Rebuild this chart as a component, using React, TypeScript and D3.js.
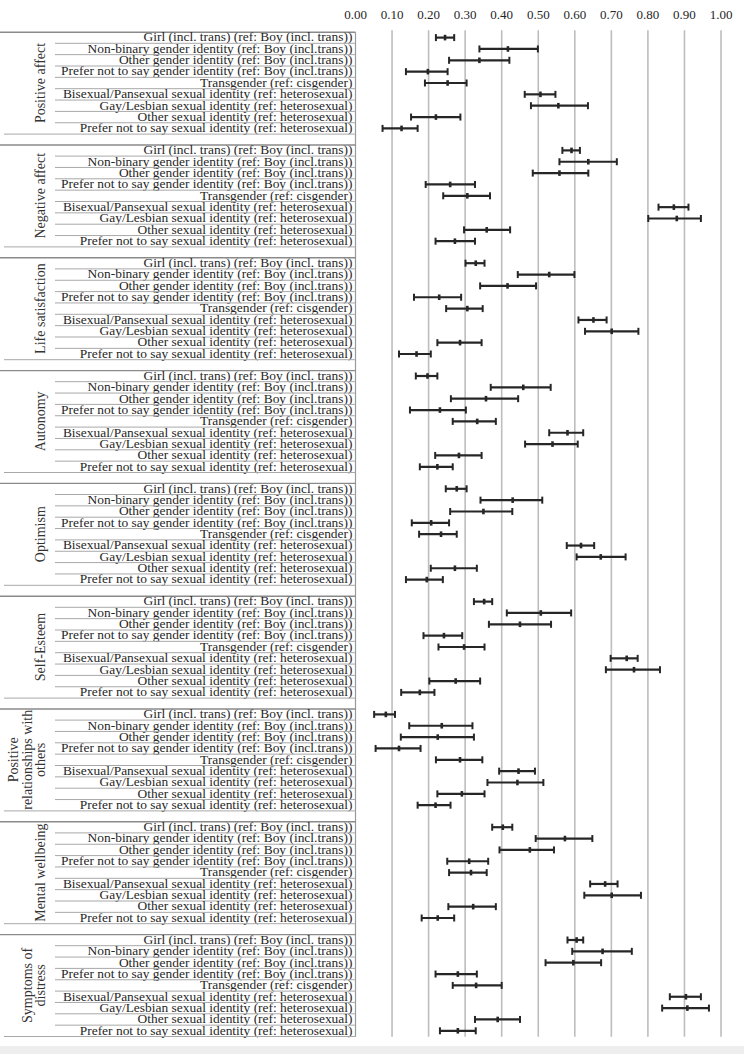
import React from "react";
import * as d3 from "d3";

// ---- DATA ----
const outcomes = [
  ["Positive affect"],
  ["Negative affect"],
  ["Life satisfaction"],
  ["Autonomy"],
  ["Optimism"],
  ["Self-Esteem"],
  ["Positive", "relationships with", "others"],
  ["Mental wellbeing"],
  ["Symptoms of", "distress"],
];

const categories = [
  "Girl (incl. trans) (ref: Boy (incl. trans))",
  "Non-binary gender identity (ref: Boy (incl.trans))",
  "Other gender identity (ref: Boy (incl.trans))",
  "Prefer not to say gender identity (ref: Boy (incl.trans))",
  "Transgender (ref: cisgender)",
  "Bisexual/Pansexual sexual identity (ref: heterosexual)",
  "Gay/Lesbian sexual identity (ref: heterosexual)",
  "Other sexual identity (ref: heterosexual)",
  "Prefer not to say sexual identity (ref: heterosexual)",
];

const tickValues = [0, 0.1, 0.2, 0.3, 0.4, 0.5, 0.6, 0.7, 0.8, 0.9, 1.0];

// [lower CI, estimate, upper CI]
const positiveAffect = [
  [0.22, 0.245, 0.27], [0.339, 0.417, 0.499], [0.256, 0.339, 0.421],
  [0.138, 0.198, 0.252], [0.19, 0.252, 0.304], [0.463, 0.506, 0.547],
  [0.48, 0.555, 0.636], [0.152, 0.22, 0.287], [0.074, 0.126, 0.17],
];
const negativeAffect = [
  [0.566, 0.591, 0.614], [0.558, 0.637, 0.715], [0.485, 0.558, 0.637],
  [0.192, 0.259, 0.327], [0.24, 0.306, 0.368], [0.829, 0.871, 0.911],
  [0.801, 0.879, 0.945], [0.297, 0.359, 0.423], [0.219, 0.272, 0.327],
];
const lifeSatisfaction = [
  [0.301, 0.329, 0.353], [0.444, 0.53, 0.599], [0.341, 0.416, 0.494],
  [0.16, 0.229, 0.289], [0.248, 0.306, 0.348], [0.61, 0.651, 0.687],
  [0.628, 0.701, 0.774], [0.224, 0.286, 0.345], [0.119, 0.167, 0.206],
];
const autonomy = [
  [0.165, 0.197, 0.224], [0.37, 0.459, 0.534], [0.261, 0.357, 0.445],
  [0.149, 0.231, 0.302], [0.266, 0.333, 0.384], [0.53, 0.58, 0.623],
  [0.464, 0.539, 0.608], [0.218, 0.283, 0.345], [0.176, 0.224, 0.266],
];
const optimism = [
  [0.247, 0.277, 0.304], [0.342, 0.43, 0.511], [0.259, 0.35, 0.429],
  [0.154, 0.207, 0.256], [0.174, 0.234, 0.277], [0.578, 0.617, 0.653],
  [0.605, 0.671, 0.739], [0.206, 0.272, 0.332], [0.138, 0.195, 0.239],
];
const selfEsteem = [
  [0.324, 0.352, 0.374], [0.414, 0.507, 0.59], [0.365, 0.45, 0.535],
  [0.186, 0.242, 0.292], [0.227, 0.297, 0.353], [0.698, 0.742, 0.772],
  [0.685, 0.762, 0.833], [0.202, 0.274, 0.341], [0.125, 0.176, 0.216],
];
const positiveRelationships = [
  [0.051, 0.083, 0.108], [0.147, 0.236, 0.32], [0.124, 0.225, 0.324],
  [0.055, 0.119, 0.178], [0.22, 0.286, 0.347], [0.393, 0.446, 0.491],
  [0.361, 0.443, 0.514], [0.224, 0.291, 0.353], [0.17, 0.219, 0.26],
];
const mentalWellbeing = [
  [0.374, 0.403, 0.429], [0.493, 0.573, 0.648], [0.394, 0.477, 0.543],
  [0.251, 0.311, 0.363], [0.256, 0.316, 0.359], [0.642, 0.683, 0.717],
  [0.626, 0.701, 0.781], [0.254, 0.322, 0.384], [0.181, 0.225, 0.27],
];
const symptomsOfDistress = [
  [0.58, 0.605, 0.623], [0.593, 0.676, 0.756], [0.52, 0.596, 0.672],
  [0.219, 0.28, 0.332], [0.266, 0.33, 0.4], [0.86, 0.904, 0.945],
  [0.839, 0.908, 0.967], [0.327, 0.389, 0.45], [0.231, 0.28, 0.329],
];

const seriesByOutcome = [
  positiveAffect, negativeAffect, lifeSatisfaction, autonomy, optimism,
  selfEsteem, positiveRelationships, mentalWellbeing, symptomsOfDistress,
];

// ---- LAYOUT ----
const W = 744;
const H = 1054;
const FONT = "'Liberation Serif', 'Times New Roman', serif";

export default function App() {
  const x = d3.scaleLinear().domain([0, 1]).range([355.5, 721]);
  const groupTop = d3.scaleLinear().domain([0, 8]).range([32.2, 32.2 + 8 * 112.8]);
  const rowY = d3.scaleLinear().domain([0, 8]).range([5.4, 96.2]);
  const tableTop = groupTop(0);
  const tableBottom = groupTop(8) + rowY(8) + 6;
  const fmt = d3.format(".2f");
  const ink = "#262626";
  const labelSx = 1.17;

  return (
    <div style={{ position: "absolute", left: 0, top: 0, width: W, height: H, background: "#fff" }}>
      <svg width={W} height={H} style={{ display: "block" }}>
        <rect x={0} y={1046} width={W} height={8} fill="#eeeeee" />
        {/* gridlines */}
        {tickValues.slice(1).map((t) => (
          <line key={"g" + t} x1={x(t)} x2={x(t)} y1={tableTop - 2} y2={tableBottom}
            stroke="#bdbdbd" strokeWidth={1.6} />
        ))}
        {/* axis labels */}
        {tickValues.map((t) => (
          <text key={"t" + t} x={x(t)} y={19} textAnchor="middle" fontFamily={FONT}
            fontSize={13} fill={ink}>{fmt(t)}</text>
        ))}
        {/* table right border */}
        <line x1={x(0)} x2={x(0)} y1={tableTop} y2={tableBottom} stroke="#9a9a9a" strokeWidth={1.2} />

        {outcomes.map((lines, g) => {
          const T = groupTop(g);
          const data = seriesByOutcome[g];
          const midY = T + (rowY(0) + rowY(8)) / 2;
          const lh = 13.5;
          return (
            <g key={"grp" + g}>
              <line x1={0} x2={x(0)} y1={T} y2={T} stroke="#8a8a8a" strokeWidth={1.4} />
              {categories.map((c, i) => {
                const y = T + rowY(i);
                return (
                  <g key={"r" + i}>
                    <text transform={`translate(${x(0) - 3}, ${y + 3.8}) scale(${labelSx}, 1)`}
                      textAnchor="end" fontFamily={FONT} fontSize={11.5} fill={ink}>{c}</text>
                    <line x1={i === 8 ? 4 : 55} x2={x(0)} y1={y + 5.7} y2={y + 5.7}
                      stroke="#a8a8a8" strokeWidth={1} />
                  </g>
                );
              })}
              {/* group label */}
              <text transform={`translate(45, ${midY}) rotate(-90)`}
                textAnchor="middle" fontFamily={FONT} fontSize={14} fill="#333">
                {lines.map((ln, k) => (
                  <tspan key={k} x={0} dy={k === 0 ? -(lines.length - 1) * lh : lh}>{ln}</tspan>
                ))}
              </text>
              {/* error bars */}
              {data.map((d, i) => {
                const y = T + rowY(i);
                const [lo, est, hi] = d;
                return (
                  <g key={"e" + i} stroke={ink}>
                    <line x1={x(lo)} x2={x(hi)} y1={y} y2={y} strokeWidth={2.2} />
                    <line x1={x(lo)} x2={x(lo)} y1={y - 3.5} y2={y + 3.5} strokeWidth={2} />
                    <line x1={x(hi)} x2={x(hi)} y1={y - 3.5} y2={y + 3.5} strokeWidth={2} />
                    <line x1={x(est)} x2={x(est)} y1={y - 2.8} y2={y + 2.8} strokeWidth={2.6} />
                  </g>
                );
              })}
            </g>
          );
        })}
      </svg>
    </div>
  );
}
